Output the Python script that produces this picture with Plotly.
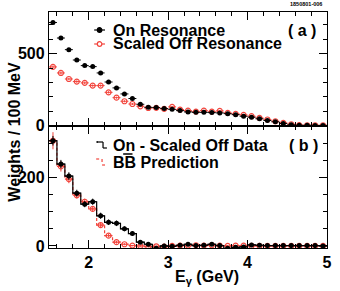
import numpy as np
import plotly.graph_objects as go
from plotly.subplots import make_subplots

# ---- data (bin centres in GeV, 100 MeV bins) ----
e_centers = [1.55, 1.65, 1.75, 1.85, 1.95, 2.05, 2.15, 2.25, 2.35, 2.45,
             2.55, 2.65, 2.75, 2.85, 2.95, 3.05, 3.15, 3.25, 3.35, 3.45,
             3.55, 3.65, 3.75, 3.85, 3.95, 4.05, 4.15, 4.25, 4.35, 4.45,
             4.55, 4.65, 4.75, 4.85, 4.95]

on_res = [717, 609, 528, 456, 417, 410, 366, 303, 262, 220,
          188, 148, 127, 125, 118, 113, 104, 95, 92, 92,
          90, 88, 83, 76, 65, 58, 47, 35, 26, 14,
          5, 2, 2, 1, 1]
on_res_err = [9, 9, 8, 8, 7, 7, 7, 6, 6, 6,
              5, 5, 5, 5, 5, 5, 4, 4, 4, 4,
              4, 4, 4, 4, 4, 3, 3, 3, 3, 2,
              2, 1, 1, 1, 1]

off_scaled = [408, 366, 324, 306, 297, 278, 278, 231, 194, 169,
              150, 134, 122, 123, 116, 130, 111, 104, 97, 104,
              97, 102, 88, 81, 74, 65, 53, 42, 30, 19,
              9, 3, 2, 2, 2]
off_scaled_err = [10, 10, 9, 9, 9, 8, 8, 8, 7, 7,
                  7, 6, 6, 6, 6, 6, 6, 5, 5, 5,
                  5, 5, 5, 5, 4, 4, 4, 3, 3, 3,
                  2, 2, 1, 1, 1]

diff = [307, 239, 204, 154, 122, 129, 88, 69, 66, 50,
        36, 11, 5, -7, 0, -1, 2, 5, 1, 2,
        5, 1, -7, -4, -3, 3, 2, 1, 1, 1,
        1, 1, 1, 1, 0]
diff_err = [14, 12, 11, 10, 9, 9, 9, 8, 8, 7,
            7, 6, 6, 6, 6, 6, 5, 5, 5, 5,
            5, 5, 5, 5, 4, 4, 4, 3, 3, 3,
            2, 2, 1, 1, 1]

bb_pred = [307, 232, 195, 148, 129, 108, 61, 30, 11, 5,
           1, 0, -2, -1, -2, 0, 1, 1, 2, 1,
           2, 1, 0, 1, 1, 0, 0, 0, 0, 0,
           0, 0, 0, 0, 0]
bb_pred_err = [25, 15, 12, 10, 9, 8, 7, 5, 4, 3,
               2, 2, 2, 2, 2, 2, 2, 2, 2, 2,
               2, 2, 2, 2, 2, 1, 1, 1, 1, 1,
               1, 1, 1, 1, 1]

x_tick_vals = [2, 3, 4, 5]
x_tick_text = ["2", "3", "4", "5"]

bin_width = 0.1
BLACK = "#000000"
RED = "#f2453d"
FONT = "Liberation Sans, Arial, Helvetica, sans-serif"

# step outlines with bin edges
edges = list(np.array(e_centers) - bin_width / 2) + [e_centers[-1] + bin_width / 2]
diff_step = list(diff) + [diff[-1]]
bb_step = list(bb_pred) + [bb_pred[-1]]

fig = make_subplots(rows=2, cols=1, shared_xaxes=True, vertical_spacing=0,
                    row_heights=[0.483, 0.517])

# ---- panel (a) ----
fig.add_trace(go.Scatter(
    x=e_centers, y=off_scaled, mode="markers",
    marker=dict(symbol="circle-open", size=5, color=RED, line=dict(width=1.2)),
    error_x=dict(type="constant", value=bin_width / 2, width=0, thickness=1, color=RED),
    error_y=dict(type="data", array=off_scaled_err, width=0, thickness=1, color=RED),
    showlegend=False), row=1, col=1)
fig.add_trace(go.Scatter(
    x=e_centers, y=on_res, mode="markers",
    marker=dict(symbol="circle", size=5, color=BLACK),
    error_x=dict(type="constant", value=bin_width / 2, width=0, thickness=1, color=BLACK),
    error_y=dict(type="data", array=on_res_err, width=0, thickness=1, color=BLACK),
    showlegend=False), row=1, col=1)

# ---- panel (b) ----
fig.add_trace(go.Scatter(
    x=edges, y=bb_step, mode="lines", line=dict(shape="hv", color=RED, width=1.2, dash="3px,2px"),
    showlegend=False), row=2, col=1)
fig.add_trace(go.Scatter(
    x=e_centers, y=bb_pred, mode="markers",
    marker=dict(symbol="circle-open", size=5, color=RED, line=dict(width=1.2)),
    error_x=dict(type="constant", value=bin_width / 2, width=0, thickness=1, color=RED),
    error_y=dict(type="data", array=bb_pred_err, width=0, thickness=1, color=RED),
    showlegend=False), row=2, col=1)
fig.add_trace(go.Scatter(
    x=edges, y=diff_step, mode="lines", line=dict(shape="hv", color=BLACK, width=1.2),
    showlegend=False), row=2, col=1)
fig.add_trace(go.Scatter(
    x=e_centers, y=diff, mode="markers",
    marker=dict(symbol="circle", size=5, color=BLACK),
    error_x=dict(type="constant", value=bin_width / 2, width=0, thickness=1, color=BLACK),
    error_y=dict(type="data", array=diff_err, width=0, thickness=1, color=BLACK),
    showlegend=False), row=2, col=1)

axis_common = dict(showline=True, linecolor=BLACK, linewidth=1.3, mirror="allticks",
                   ticks="inside", ticklen=8, tickwidth=1, tickcolor=BLACK,
                   showgrid=False, zeroline=False,
                   tickfont=dict(family=FONT, size=16, color=BLACK))

fig.update_xaxes(range=[1.5, 5.0], tickvals=x_tick_vals,
                 ticktext=["<b>%s</b>" % t for t in x_tick_text],
                 minor=dict(dtick=0.2, tick0=0, ticks="inside", ticklen=4, tickcolor=BLACK),
                 **axis_common)
fig.update_xaxes(showticklabels=False, row=1, col=1)
fig.update_yaxes(range=[-3, 790], tick0=0, dtick=500,
                 minor=dict(dtick=100, tick0=0, ticks="inside", ticklen=4, tickcolor=BLACK),
                 tickprefix="<b>", ticksuffix="</b>", row=1, col=1, **axis_common)
fig.update_yaxes(range=[-6, 350], tick0=0, dtick=200,
                 minor=dict(dtick=50, tick0=0, ticks="inside", ticklen=4, tickcolor=BLACK),
                 tickprefix="<b>", ticksuffix="</b>", row=2, col=1, **axis_common)

L, R, T, B = 49, 8, 12, 43
W, H = 340, 291
PW, PH = W - L - R, H - T - B


def px(x):
    return (x - L) / PW


def py(y):
    return (H - B - y) / PH


annotations = []
shapes = []


def text(x, y, s, size=16, xanchor="left", angle=0):
    annotations.append(dict(x=px(x), y=py(y), xref="paper", yref="paper", text=s,
                            showarrow=False, xanchor=xanchor, yanchor="middle",
                            textangle=angle,
                            font=dict(family=FONT, size=size, color=BLACK)))


# legend (a)
text(112, 30, "<b>On Resonance</b>")
text(112, 44, "<b>Scaled Off Resonance</b>")
text(290, 30, "<b>( a )</b>")
# legend (b)
text(112, 145, "<b>On - Scaled Off Data</b>")
text(112, 162, "<b>BB Prediction</b>")
text(291, 145, "<b>( b )</b>")
# id tag
text(329, 4, "<b>1850801-006</b>", size=5.5, xanchor="right")
# axis titles
text(13, 132, "<b>Weights / 100 MeV</b>", size=16, xanchor="center", angle=-90)
annotations.append(dict(x=px(210), y=py(277), xref="paper", yref="paper",
                        text="<b>E<sub>\u03b3</sub> (GeV)</b>", showarrow=False,
                        xanchor="center", yanchor="middle",
                        font=dict(family=FONT, size=16, color=BLACK)))


# legend symbols
def seg(x0, y0, x1, y1, color, dash="solid", width=1.2):
    shapes.append(dict(type="line", xref="paper", yref="paper",
                       x0=px(x0), y0=py(y0), x1=px(x1), y1=py(y1),
                       line=dict(color=color, width=width, dash=dash)))


def dot(x, y, color, filled):
    r = 2.3
    shapes.append(dict(type="circle", xref="paper", yref="paper",
                       x0=px(x - r), x1=px(x + r), y0=py(y + r), y1=py(y - r),
                       line=dict(color=color, width=1.2),
                       fillcolor=color if filled else "white"))


seg(95, 30, 106, 30, BLACK)
dot(100.5, 30, BLACK, True)
seg(95, 44, 106, 44, RED)
dot(100.5, 44, RED, False)
# step symbols for (b)
seg(98, 141, 98, 143, BLACK)
seg(98, 142, 104, 142, BLACK)
seg(104, 142, 104, 148, BLACK)
seg(104, 148, 108, 148, BLACK)
seg(97, 159, 103, 159, RED, "dot")
seg(103, 159, 103, 165, RED, "dot")
seg(103, 165, 108, 165, RED, "dot")
# bar over the second B of "BB"
seg(124.5, 154, 134, 154, BLACK, width=1.5)

fig.update_layout(width=W, height=H, margin=dict(l=L, r=R, t=T, b=B),
                  paper_bgcolor="white", plot_bgcolor="white",
                  annotations=annotations, shapes=shapes,
                  font=dict(family=FONT, color=BLACK))

fig.write_html("out.html", config={"displayModeBar": False},
               post_script="document.body.style.margin='0';")
